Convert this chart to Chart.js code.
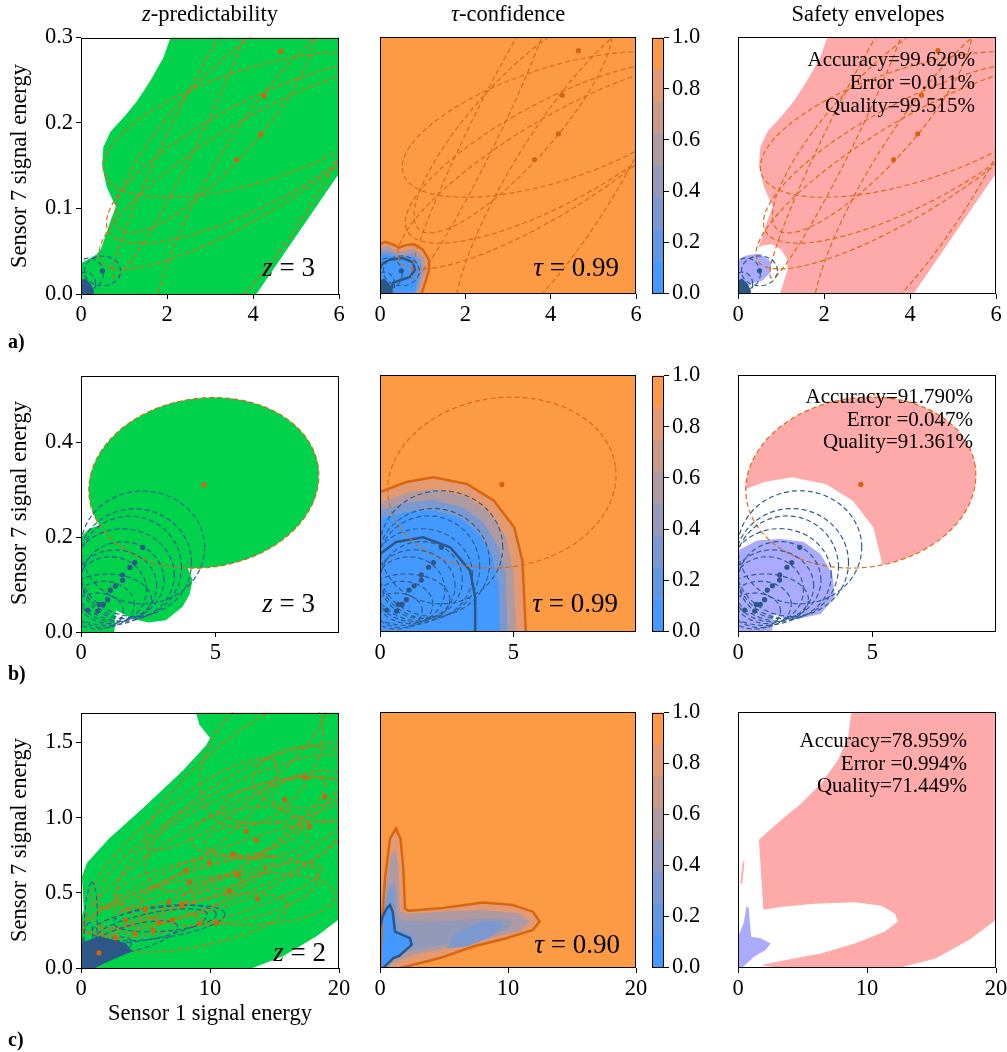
<!DOCTYPE html>
<html>
<head>
<meta charset="utf-8">
<script src="https://cdn.jsdelivr.net/npm/chart.js@4.4.1/dist/chart.umd.min.js"></script>
<style>
    body { margin: 0; background: #fff; }
    #fig { position: relative; width: 1007px; height: 1052px; overflow: hidden;
           font-family: 'Liberation Serif', 'Times New Roman', serif; color: #000; }
    .t { position: absolute; white-space: nowrap; line-height: 1; }
</style>
</head>
<body>
<div id="fig"></div>
<script>
// Оси и деления
const xTicksA = [0, 2, 4, 6], yTicksA = [0, 0.1, 0.2, 0.3];
const xTicksB = [0, 5], yTicksB = [0, 0.2, 0.4];
const xTicksC = [0, 10, 20], yTicksC = [0, 0.5, 1.0, 1.5];
const cbTicks = [0, 0.2, 0.4, 0.6, 0.8, 1.0];
const cbLevels = [0, 0.125, 0.25, 0.375, 0.5, 0.625, 0.75, 0.875, 1.0];

// Ряд a) — области, контуры, точки
const greenA = [[0,0],[0,0.036],[0.15,0.040],[0.35,0.046],[0.46,0.052],[0.69,0.086],[0.81,0.102],[0.6,0.125],[0.49,0.15],[0.52,0.172],[0.69,0.19],[1.0,0.207],[1.31,0.226],[1.62,0.25],[1.92,0.277],[2.08,0.3],[6,0.3],[6,0.141],[4.08,0]];
const tauA1 = [[0,0.058],[0.12,0.061],[0.3,0.058],[0.45,0.054],[0.6,0.057],[0.8,0.058],[1.0,0.052],[1.15,0.04],[1.15,0.028],[1.05,0.012],[0.97,0]];
const tauA2 = [[0,0.053],[0.15,0.056],[0.45,0.049],[0.8,0.053],[1.03,0.043],[1.07,0.028],[0.96,0.01],[0.9,0]];
const tauA3 = [[0,0.049],[0.15,0.051],[0.45,0.045],[0.8,0.048],[0.97,0.039],[0.99,0.026],[0.89,0.008],[0.83,0]];
const tauA4 = [[0,0.045],[0.15,0.047],[0.45,0.041],[0.78,0.044],[0.91,0.035],[0.93,0.024],[0.83,0.006],[0.78,0]];
const darkLineA = [[0,0.03],[0.07,0.036],[0.23,0.04],[0.54,0.042],[0.77,0.037],[0.82,0.028],[0.7,0.02],[0.47,0.016],[0.3,0.013],[0.26,0.005],[0.23,0]];
const violetA = [[0,0],[0,0.04],[0.19,0.045],[0.5,0.047],[0.77,0.038],[0.77,0.026],[0.58,0.016],[0.31,0.012],[0.12,0.001]];
const darkA = [[0,0],[0,0.016],[0.1,0.018],[0.22,0.012],[0.3,0.004],[0.3,0]];
const orangePtsA = [[4.65,0.284],[4.27,0.232],[4.18,0.187],[3.62,0.157]];
const bluePtsA = [[0.5,0.027],[0.12,0.012],[0.18,0.008],[0.06,0.004],[0.22,0.004]];
// эллипсы: центр (данные), полуоси (доли осей), угол
const ellOrangeA = [[3.99,0.147,0.69,0.18,31.6],[4.08,0.165,0.65,0.2,28],[4.08,0.198,0.62,0.22,18],[2.4,0.186,0.62,0.06,64],[3.12,0.198,0.55,0.16,48],[4.32,0.135,0.75,0.2,58]];
const ellBlueA = [[0.5,0.027,0.07,0.058,0],[0.19,0.024,0.055,0.06,0],[0.1,0.012,0.04,0.045,0],[0.05,0.006,0.03,0.03,0]];

// Ряд b)
const ellOrangeB = [[4.57,0.314,0.448,0.33,8]];
const greenBlobB = [[0,0],[0,0.2],[0.31,0.218],[0.7,0.225],[1.5,0.21],[2.5,0.18],[3.2,0.165],[3.9,0.145],[4.15,0.11],[4.05,0.08],[3.78,0.053],[3.16,0.025],[2.5,0.02],[1.92,0.028],[1.3,0.046],[1.24,0]];
const tauB1 = [[0,0.294],[0.98,0.315],[2.0,0.325],[3.26,0.311],[4.27,0.276],[5.03,0.22],[5.34,0.15],[5.47,0]];
const tauB2 = [[0,0.272],[1.0,0.292],[2.0,0.3],[3.2,0.285],[4.05,0.252],[4.72,0.2],[5.0,0.13],[5.1,0]];
const tauB3 = [[0,0.255],[1.0,0.272],[2.0,0.278],[3.1,0.262],[3.85,0.232],[4.45,0.18],[4.72,0.12],[4.78,0]];
const tauB4 = [[0,0.238],[1.0,0.252],[2.0,0.256],[3.0,0.24],[3.65,0.21],[4.2,0.162],[4.45,0.1],[4.5,0]];
const darkLineB = [[0,0.164],[0.6,0.189],[1.62,0.199],[2.63,0.178],[3.38,0.129],[3.57,0.073],[3.57,0]];
const violetB = [[0,0],[0,0.171],[0.71,0.192],[1.58,0.196],[2.45,0.189],[3.07,0.164],[3.51,0.122],[3.6,0.073],[3.07,0.038],[1.95,0.024],[1.33,0.038],[1.27,0]];
const orangePtsB = [[4.57,0.31]];
const bluePtsB = [[2.3,0.178],[2.0,0.146],[1.82,0.136],[1.55,0.12],[1.55,0.109],[1.28,0.097],[1.09,0.088],[0.99,0.068],[0.83,0.058],[0.68,0.058],[0.62,0.044],[0.25,0.046]];
const ellBlueB = [[2.3,0.178,0.24,0.22,0],[2.0,0.146,0.22,0.21,0],[1.82,0.136,0.2,0.2,0],[1.55,0.12,0.2,0.18,0],[1.55,0.109,0.16,0.15,0],[1.28,0.097,0.16,0.14,0],[1.09,0.088,0.14,0.13,0],[0.83,0.058,0.12,0.09,0],[0.62,0.044,0.1,0.07,0],[0.99,0.068,0.17,0.1,0]];

// Ряд c)
const greenC = [[0,0],[0,0.324],[0.21,0.39],[0.08,0.61],[0.47,0.70],[2.16,0.86],[4.75,1.06],[7.87,1.31],[9.69,1.48],[10.0,1.53],[9.17,1.62],[8.91,1.7],[20,1.7],[20,0.324],[18.26,0.212],[15.66,0.078],[13.3,0]];
const darkC = [[0,0],[0,0.167],[1.38,0.212],[3.45,0.167],[3.97,0.112],[2.16,0.045],[1.1,0]];
const orangePtsC = [[17.35,1.27],[18.9,1.14],[15.8,1.12],[12.8,0.91],[13.6,0.85],[17.7,0.94],[13.7,0.46],[11.5,0.51],[9.95,0.70],[8.4,0.57],[6.8,0.44],[6.05,0.30],[5.0,0.39],[9.2,0.30],[4.2,0.23],[3.45,0.32],[2.7,0.2],[7.1,0.32],[11.8,0.76],[8.1,0.65],[10.5,0.30],[1.4,0.1],[5.6,0.25],[7.8,0.42],[12.2,0.62]];
const ellOrangeC = [[9.5,0.75,0.55,0.12,32],[11,0.9,0.55,0.15,30],[12,0.8,0.5,0.2,25],[10.5,0.6,0.55,0.1,22],[12.8,0.91,0.22,0.09,8],[13.6,0.85,0.2,0.07,3],[17.35,1.27,0.2,0.12,5],[15.8,1.12,0.25,0.08,10],[18.9,1.14,0.2,0.1,0],[13.7,0.46,0.3,0.1,3],[8.4,0.57,0.3,0.08,12],[11.5,0.51,0.35,0.12,10],[6.8,0.44,0.3,0.07,15],[9.2,0.3,0.35,0.09,12],[14,1.0,0.5,0.2,28],[8,0.9,0.45,0.12,38],[12,1.3,0.45,0.12,40],[14,1.4,0.3,0.2,55],[7.5,0.5,0.4,0.06,20],[10,0.45,0.45,0.08,16]];
const ellBlueC = [[0.75,0.28,0.17,0.025,88],[6,0.3,0.26,0.06,8],[5.5,0.28,0.22,0.05,12],[6.5,0.33,0.2,0.05,5],[4,0.2,0.18,0.05,15],[2,0.12,0.1,0.04,20],[0.5,0.15,0.09,0.02,85]];
const tauC1 = [[0,0],[0.13,0.286],[0.39,0.593],[0.78,0.857],[1.25,0.927],[1.61,0.857],[1.82,0.659],[1.95,0.396],[2.21,0.38],[4.68,0.396],[8.05,0.435],[10.39,0.418],[11.95,0.374],[12.47,0.308],[11.95,0.253],[9.87,0.198],[7.27,0.143],[4.68,0.066],[2.6,0.022],[1.56,0]];
const tauC2 = [[0,0],[0.25,0.35],[0.52,0.593],[0.85,0.75],[1.17,0.79],[1.43,0.68],[1.56,0.374],[2.2,0.36],[4.68,0.374],[8.05,0.385],[10.9,0.363],[11.7,0.308],[10.9,0.242],[7.8,0.187],[4.68,0.121],[2.6,0.088],[1.04,0.033],[0.6,0]];
const tauC3 = [[0,0.022],[0.4,0.35],[0.78,0.505],[1.04,0.593],[1.3,0.505],[1.35,0.33],[2.2,0.31],[4.68,0.308],[8.57,0.33],[10.4,0.308],[10.0,0.253],[7.27,0.209],[4.42,0.143],[2.08,0.11],[0.78,0.055],[0.3,0]];
const tauC4 = [[5.2,0.13],[5.97,0.24],[8.05,0.31],[9.35,0.31],[9.6,0.275],[8.57,0.2],[6.75,0.143]];
const tauC5 = [[0,0.05],[0.35,0.42],[0.75,0.55],[1.05,0.52],[1.2,0.35],[1.5,0.26],[2.6,0.22],[2.7,0.15],[1.5,0.08],[0.6,0.02]];
const darkLineC = [[0,0.27],[0.2,0.34],[0.52,0.396],[0.78,0.418],[0.99,0.374],[1.17,0.242],[2.34,0.198],[2.47,0.154],[1.5,0.08],[1.04,0.066],[0.26,0]];
const pinkC = [[8.79,1.7],[20,1.7],[20,0.32],[17.91,0.186],[15.3,0.063],[12.44,0],[3.31,0],[1.75,0.018],[3.31,0.047],[6.44,0.096],[9.05,0.163],[11.4,0.242],[12.39,0.309],[12.18,0.36],[11.13,0.414],[9.05,0.436],[5.92,0.427],[3.31,0.405],[1.96,0.387],[1.8,0.611],[1.62,0.852],[3.31,0.98],[4.88,1.09],[6.44,1.226],[7.74,1.38],[8.53,1.53]];
const pinkC2 = [[0.18,0.566],[0.39,0.711],[0.5,0.70],[0.31,0.555]];
const violetC = [[0,0],[0,0.208],[0.44,0.298],[0.65,0.409],[0.83,0.398],[1.02,0.208],[1.75,0.197],[2.53,0.163],[2.14,0.119],[1.23,0.074],[0.31,0]];

// Цвета
const GREEN = '#00d34b', ORANGE_BG = '#fd9a44', ORANGE_LINE = '#dc6a12', ORANGE_PT = '#d4620e';
const BLUE_LINE = '#2e5d8e', DARK = '#2d5786', PINK = '#ffaaaa', VIOLET = '#aaaaff';
const BAND = ['#4499ff', '#5f99e6', '#7b99cf', '#9599b8', '#b09aa1', '#ca9a89', '#e49a70', '#fe9a44'];
const SERIF = "'Liberation Serif', 'Times New Roman', serif";
const FS = 22.5;

const fig = document.getElementById('fig');

const P = arr => arr.map(([x, y]) => ({x, y}));
const corner = arr => arr.concat([[0, 0]]);

function ellipse([cx, cy, a, b, deg], xmax, ymax) {
    const th = deg * Math.PI / 180, out = [];
    for (let i = 0; i <= 96; i++) {
        const t = i / 96 * 2 * Math.PI;
        const u = a * Math.cos(th) * Math.cos(t) - b * Math.sin(th) * Math.sin(t);
        const v = a * Math.sin(th) * Math.cos(t) + b * Math.cos(th) * Math.sin(t);
        out.push({x: cx + u * xmax, y: cy + v * ymax});
    }
    return out;
}

const area = (data, color) => ({data, showLine: true, fill: 'shape', backgroundColor: color, borderColor: color, borderWidth: 0, pointRadius: 0, pointHoverRadius: 0});
const stroke = (data, color, width, dash) => ({data, showLine: true, fill: false, borderColor: color, borderWidth: width, borderDash: dash || [], pointRadius: 0, pointHoverRadius: 0});
const dots = (data, color) => ({data: P(data), showLine: false, pointRadius: 2.6, pointBackgroundColor: color, pointBorderWidth: 0, pointHoverRadius: 0});
const ells = (list, color, xmax, ymax) => list.map(e => stroke(ellipse(e, xmax, ymax), color, 1.2, [5, 3]));

function makeCanvas(left, top, w, h) {
    const c = document.createElement('canvas');
    c.width = w; c.height = h;
    c.style.cssText = `position:absolute;left:${left}px;top:${top}px;width:${w}px;height:${h}px`;
    fig.appendChild(c);
    return c;
}

// рамка и фон области графика
const frame = {
    id: 'frame',
    beforeDatasetsDraw(chart, args, opts) {
        if (!opts.bg) return;
        const {ctx, chartArea: a} = chart;
        ctx.save();
        ctx.fillStyle = opts.bg;
        ctx.fillRect(a.left, a.top, a.right - a.left, a.bottom - a.top);
        ctx.restore();
    },
    afterDraw(chart) {
        const {ctx, chartArea: a} = chart;
        ctx.save();
        ctx.strokeStyle = '#000';
        ctx.lineWidth = 1;
        ctx.strokeRect(Math.round(a.left) + 0.5, Math.round(a.top) + 0.5, Math.round(a.right - a.left) - 1, Math.round(a.bottom - a.top) - 1);
        ctx.restore();
    }
};

function axis(max, ticks, show, fmt, fit) {
    return {
        type: 'linear', min: 0, max,
        afterBuildTicks: s => { s.ticks = ticks.map(value => ({value})); },
        afterFit: fit,
        border: {display: false},
        grid: {display: true, drawOnChartArea: false, drawTicks: show, tickLength: 5, color: '#000', lineWidth: 1},
        ticks: {display: show, color: '#000', font: {family: SERIF, size: FS}, padding: 3, maxRotation: 0, autoSkip: false, callback: v => fmt(v)}
    };
}

function panel(left, top, w, h, cfg) {
    const PL = 60, PT = 16, PR = 16, PB = 34;
    const canvas = makeCanvas(left - PL, top - PT, w + PL + PR, h + PT + PB);
    new Chart(canvas, {
        type: 'line',
        data: {datasets: cfg.layers.slice().reverse()},
        options: {
            responsive: false, animation: false, events: [],
            layout: {padding: {top: PT, right: PR, left: 0, bottom: 0}},
            plugins: {legend: {display: false}, tooltip: {enabled: false}, frame: {bg: cfg.bg || null}},
            scales: {
                x: axis(cfg.xmax, cfg.xTicks, true, v => String(v), s => { s.height = PB; }),
                y: axis(cfg.ymax, cfg.yTicks, !!cfg.showY, v => v.toFixed(1), s => { s.width = PL; })
            }
        },
        plugins: [frame]
    });
}

function colorbar(left, top, h) {
    const W = 12, PR = 60, PT = 16;
    const canvas = makeCanvas(left, top - PT, W + PR, h + 2 * PT);
    new Chart(canvas, {
        type: 'bar',
        data: {
            labels: [''],
            datasets: BAND.map((c, i) => ({data: [[cbLevels[i], cbLevels[i + 1]]], backgroundColor: c, borderWidth: 0, barPercentage: 1, categoryPercentage: 1}))
        },
        options: {
            responsive: false, animation: false, events: [],
            layout: {padding: {top: PT, bottom: PT, left: 0, right: 0}},
            plugins: {legend: {display: false}, tooltip: {enabled: false}},
            scales: {
                x: {display: false, stacked: true},
                y: Object.assign(axis(1, cbTicks, true, v => v.toFixed(1), s => { s.width = PR; }), {position: 'right'})
            }
        },
        plugins: [frame]
    });
}

// Геометрия панелей
const rows = {a: {top: 37, h: 257}, b: {top: 375, h: 257}, c: {top: 712, h: 256}};
const cols = [{left: 81, w: 258}, {left: 380, w: 256}, {left: 738, w: 258}];
const CB_LEFT = 652;

// ---- a) ----
const A = {xmax: 6, ymax: 0.3, xTicks: xTicksA, yTicks: yTicksA};
panel(cols[0].left, rows.a.top, cols[0].w, rows.a.h, {...A, showY: true, layers: [
    area(P(greenA), GREEN),
    ...ells(ellOrangeA, ORANGE_LINE, 6, 0.3),
    ...ells(ellBlueA, BLUE_LINE, 6, 0.3),
    area(P(darkA), DARK),
    dots(orangePtsA, ORANGE_PT), dots(bluePtsA, DARK)
]});
panel(cols[1].left, rows.a.top, cols[1].w, rows.a.h, {...A, bg: ORANGE_BG, layers: [
    area(P(corner(tauA1)), BAND[6]), area(P(corner(tauA2)), BAND[4]),
    area(P(corner(tauA3)), BAND[2]), area(P(corner(tauA4)), BAND[0]),
    stroke(P(tauA1), '#d9650f', 2.5), stroke(P(darkLineA), DARK, 2.5),
    ...ells(ellOrangeA, ORANGE_LINE, 6, 0.3),
    ...ells(ellBlueA, BLUE_LINE, 6, 0.3),
    area(P(darkA), DARK),
    dots(orangePtsA, ORANGE_PT), dots(bluePtsA, DARK)
]});
colorbar(CB_LEFT, rows.a.top, rows.a.h);
panel(cols[2].left, rows.a.top, cols[2].w, rows.a.h, {...A, layers: [
    area(P(greenA), PINK), area(P(corner(tauA1)), '#ffffff'), area(P(violetA), VIOLET),
    ...ells(ellOrangeA, ORANGE_LINE, 6, 0.3),
    ...ells(ellBlueA, BLUE_LINE, 6, 0.3),
    area(P(darkA), DARK),
    dots(orangePtsA, ORANGE_PT), dots(bluePtsA, DARK)
]});

// ---- b) ----
const B = {xmax: 9.6, ymax: 0.54, xTicks: xTicksB, yTicks: yTicksB};
panel(cols[0].left, rows.b.top, cols[0].w, rows.b.h, {...B, showY: true, layers: [
    area(ellipse(ellOrangeB[0], 9.6, 0.54), GREEN), area(P(greenBlobB), GREEN),
    ...ells(ellOrangeB, ORANGE_LINE, 9.6, 0.54),
    ...ells(ellBlueB, BLUE_LINE, 9.6, 0.54),
    dots(orangePtsB, ORANGE_PT), dots(bluePtsB, DARK)
]});
panel(cols[1].left, rows.b.top, cols[1].w, rows.b.h, {...B, bg: ORANGE_BG, layers: [
    area(P(corner(tauB1)), BAND[6]), area(P(corner(tauB2)), BAND[4]),
    area(P(corner(tauB3)), BAND[2]), area(P(corner(tauB4)), BAND[0]),
    stroke(P(tauB1), '#d9650f', 2.5), stroke(P(darkLineB), DARK, 2.5),
    ...ells(ellOrangeB, ORANGE_LINE, 9.6, 0.54),
    ...ells(ellBlueB, BLUE_LINE, 9.6, 0.54),
    dots(orangePtsB, ORANGE_PT), dots(bluePtsB, DARK)
]});
colorbar(CB_LEFT, rows.b.top, rows.b.h);
panel(cols[2].left, rows.b.top, cols[2].w, rows.b.h, {...B, layers: [
    area(ellipse(ellOrangeB[0], 9.6, 0.54), PINK), area(P(corner(tauB1)), '#ffffff'), area(P(violetB), VIOLET),
    ...ells(ellOrangeB, ORANGE_LINE, 9.6, 0.54),
    ...ells(ellBlueB, BLUE_LINE, 9.6, 0.54),
    dots(orangePtsB, ORANGE_PT), dots(bluePtsB, DARK)
]});

// ---- c) ----
const C = {xmax: 20, ymax: 1.7, xTicks: xTicksC, yTicks: yTicksC};
panel(cols[0].left, rows.c.top, cols[0].w, rows.c.h, {...C, showY: true, layers: [
    area(P(greenC), GREEN),
    ...ells(ellOrangeC, ORANGE_LINE, 20, 1.7),
    ...ells(ellBlueC, BLUE_LINE, 20, 1.7),
    area(P(darkC), DARK),
    dots(orangePtsC, ORANGE_PT)
]});
panel(cols[1].left, rows.c.top, cols[1].w, rows.c.h, {...C, bg: ORANGE_BG, layers: [
    area(P(tauC1), BAND[6]), area(P(tauC2), BAND[4]), area(P(tauC3), BAND[3]),
    area(P(tauC4), BAND[2]), area(P(tauC5), BAND[2]),
    area(P([[0, 0]].concat(darkLineC)), BAND[0]),
    stroke(P(tauC1), '#d9650f', 2.5), stroke(P(darkLineC), DARK, 2.5)
]});
colorbar(CB_LEFT, rows.c.top, rows.c.h);
panel(cols[2].left, rows.c.top, cols[2].w, rows.c.h, {...C, layers: [
    area(P(pinkC), PINK), area(P(pinkC2), PINK), area(P(violetC), VIOLET)
]});

// ---- Тексты ----
function text(html, x, baseline, size, align, extra) {
    const d = document.createElement('div');
    d.className = 't';
    d.innerHTML = html;
    d.style.fontSize = size + 'px';
    d.style.top = (baseline - 0.84 * size) + 'px';
    if (align === 'right') d.style.right = (1007 - x) + 'px';
    else if (align === 'center') { d.style.left = x + 'px'; d.style.transform = 'translateX(-50%)'; }
    else d.style.left = x + 'px';
    if (extra) Object.assign(d.style, extra);
    fig.appendChild(d);
}
function ylabel(cy) {
    const d = document.createElement('div');
    d.className = 't';
    d.textContent = 'Sensor 7 signal energy';
    d.style.cssText += `font-size:${FS}px;left:19px;top:${cy}px;transform:translate(-50%,-50%) rotate(-90deg);`;
    fig.appendChild(d);
}

text('<i>z</i>-predictability', 210, 22, FS, 'center');
text('<i>τ</i>-confidence', 508, 22, FS, 'center');
text('Safety envelopes', 868, 22, FS, 'center');
ylabel(166); ylabel(503); ylabel(840);
text('Sensor 1 signal energy', 210, 1021, FS, 'center');
text('a)', 8, 348, 20, 'left', {fontWeight: 'bold'});
text('b)', 8, 680, 20, 'left', {fontWeight: 'bold'});
text('c)', 8, 1046, 20, 'left', {fontWeight: 'bold'});

text('<i>z</i> = 3', 315, 277, 27, 'right');
text('<i>z</i> = 3', 315, 613, 27, 'right');
text('<i>z</i> = 2', 326, 962, 27, 'right');
text('<i>τ</i> = 0.99', 619, 277, 27, 'right');
text('<i>τ</i> = 0.99', 618, 613, 27, 'right');
text('<i>τ</i> = 0.90', 620, 954, 27, 'right');

const scoresA = ['Accuracy=99.620%', 'Error =0.011%', 'Quality=99.515%'];
const scoresB = ['Accuracy=91.790%', 'Error =0.047%', 'Quality=91.361%'];
const scoresC = ['Accuracy=78.959%', 'Error =0.994%', 'Quality=71.449%'];
scoresA.forEach((s, i) => text(s, 975, 67 + i * 23, 21, 'right'));
scoresB.forEach((s, i) => text(s, 973, 404 + i * 22.5, 21, 'right'));
scoresC.forEach((s, i) => text(s, 967, 748 + i * 22.5, 21, 'right'));
</script>
</body>
</html>
